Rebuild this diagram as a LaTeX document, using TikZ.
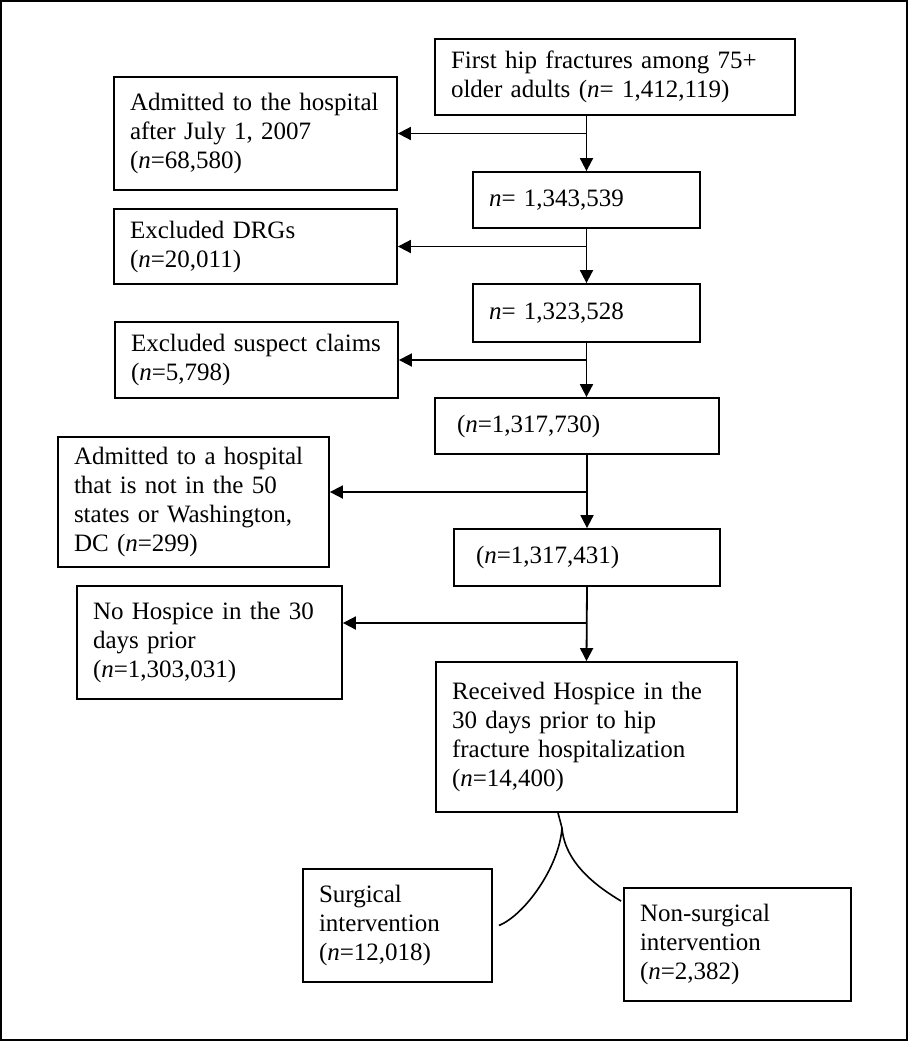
\documentclass[tikz,border=0pt]{standalone}
\usepackage{fontspec}
\setmainfont{Liberation Serif}
\usetikzlibrary{arrows.meta}

\begin{document}
\begin{tikzpicture}[x=0.5pt,y=-0.5pt,
  box/.style={draw,line width=0.9pt,align=left,inner xsep=8pt,inner ysep=0pt,
    font=\fontsize{12.5pt}{14.5pt}\selectfont},
  flow/.style={-{Triangle[length=6.5pt,width=6.5pt]},line width=0.9pt},
  branch/.style={line width=0.8pt}]
\useasboundingbox (0,0) rectangle (909,1050);
\draw[line width=1pt] (1,1) rectangle (907,1040);

% main column
\node[box,text width=164pt,minimum height=38pt] (start) at (615,77) {First hip fractures among 75+\\older adults (\textit{n}= 1,412,119)};
\node[box,text width=97.5pt,minimum height=28pt] (n1) at (586.5,200) {\textit{n}= 1,343,539};
\node[box,text width=97.5pt,minimum height=29pt] (n2) at (586.5,313) {\textit{n}= 1,323,528};
\node[box,text width=126pt,minimum height=28pt] (n3) at (577,426) {\hspace{3pt}(\textit{n}=1,317,730)};
\node[box,text width=117pt,minimum height=28.5pt] (n4) at (587,557.5) {\hspace{3pt}(\textit{n}=1,317,431)};
\node[box,text width=134.5pt,minimum height=75pt] (hosp) at (586.5,737) {Received Hospice in the\\30 days prior to hip\\fracture hospitalization\\(\textit{n}=14,400)};

% exclusions
\node[box,text width=125.5pt,minimum height=56.5pt] (adm07) at (255.5,133.5) {Admitted to the hospital\\after July 1, 2007\\(\textit{n}=68,580)};
\node[box,text width=125.5pt,minimum height=37.5pt] (drg) at (255.5,246.5) {Excluded DRGs\\(\textit{n}=20,011)};
\node[box,text width=125.5pt,minimum height=38pt] (susp) at (256.5,360) {Excluded suspect claims\\(\textit{n}=5,798)};
\node[box,text width=119.5pt,minimum height=65pt] (nonus) at (193.5,502) {Admitted to a hospital\\that is not in the 50\\states or Washington,\\DC (\textit{n}=299)};
\node[box,text width=116.5pt,minimum height=56.5pt] (nohosp) at (209.5,642.5) {No Hospice in the 30\\days prior\\(\textit{n}=1,303,031)};

% outcome
\node[box,text width=78.5pt,minimum height=56.5pt] (surg) at (397.5,925.5) {Surgical\\intervention\\(\textit{n}=12,018)};
\node[box,text width=97.5pt,minimum height=56.5pt] (nonsurg) at (737.5,944.5) {Non-surgical\\intervention\\(\textit{n}=2,382)};

\draw[flow] (start.south -| n1.north) -- (n1.north);
\draw[flow] (adm07.east -| n1.north) -- (adm07.east);
\draw[flow] (n1.south) -- (n2.north);
\draw[flow] (drg.east -| n1.north) -- (drg.east);
\draw[flow] (n2.south) -- (n2.south |- n3.north);
\draw[flow] (susp.east -| n1.north) -- (susp.east);
\draw[flow] (n3.south -| n4.north) -- (n4.north);
\draw[flow] ([yshift=5pt]nonus.east -| n4.north) -- ([yshift=5pt]nonus.east);
\draw[flow] (n4.south) -- (hosp.north);
\draw[flow] ([yshift=9.75pt]nohosp.east -| n4.north) -- ([yshift=9.75pt]nohosp.east);

\coordinate (split) at (562,828);
\draw[branch] ([xshift=-14.25pt]hosp.south) -- (split);
\draw[branch] (split) .. controls +(-3,40) and +(25,-10) .. ([xshift=3pt]surg.east);
\draw[branch] (split) .. controls +(3,35) and +(-25,-15) .. ([xshift=-1pt,yshift=-7pt]nonsurg.north west);
\end{tikzpicture}
\end{document}
